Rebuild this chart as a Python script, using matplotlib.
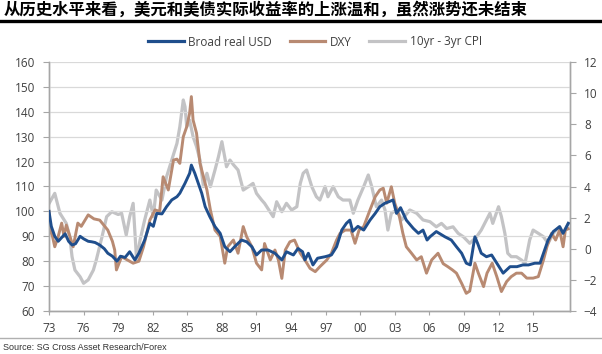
import matplotlib
matplotlib.use('Agg')
import matplotlib.pyplot as plt
from matplotlib.lines import Line2D

plt.rcParams['font.family'] = ['Open Sans', 'DejaVu Sans']

# Broad real USD (left axis)
usd_years = [1973.0, 1973.2, 1973.5, 1973.8, 1974.0, 1974.4, 1974.7, 1975.0, 1975.3, 1975.7,
             1976.0, 1976.4, 1976.7, 1977.0, 1977.4, 1977.8, 1978.1, 1978.5, 1978.9, 1979.2,
             1979.6, 1980.0, 1980.45, 1980.8, 1981.3, 1981.75, 1982.05, 1982.35, 1982.8, 1983.2,
             1983.65, 1984.1, 1984.35, 1984.8, 1985.2, 1985.35, 1985.65, 1985.95, 1986.25, 1986.55,
             1986.95, 1987.4, 1987.85, 1988.25, 1988.7, 1989.1, 1989.7, 1990.15, 1990.6, 1991.0,
             1991.45, 1992.0, 1992.6, 1993.2, 1993.6, 1994.2, 1994.6, 1995.0, 1995.2, 1995.5,
             1995.9, 1996.3, 1996.95, 1997.5, 1997.95, 1998.4, 1998.8, 1999.1, 1999.35, 1999.8,
             2000.3, 2000.85, 2001.3, 2001.7, 2002.15, 2002.5, 2002.85, 2003.15, 2003.5, 2004.0,
             2004.6, 2005.05, 2005.45, 2005.8, 2006.05, 2006.6, 2007.35, 2007.9, 2008.35, 2008.8,
             2009.2, 2009.55, 2009.95, 2010.2, 2010.5, 2010.95, 2011.4, 2011.85, 2012.4, 2013.0,
             2013.6, 2014.1, 2014.6, 2015.15, 2015.6, 2015.9, 2016.3, 2016.75, 2017.3, 2017.6,
             2018.05]
usd_vals = [100, 94, 90, 88, 89, 91, 88, 86.5, 87, 90,
            89, 88, 87.8, 87.5, 86.5, 85, 83.2, 82, 80, 82,
            81.5, 83.8, 80.5, 83.2, 88.5, 95.2, 94, 99.2, 99, 101.9,
            104.6, 105.9, 107.3, 111.3, 115.3, 118.6, 115.3, 111.3, 107.3, 101.9,
            97.9, 93.9, 91.2, 85.8, 83.8, 85.8, 88.5, 87.8, 85.8, 82.5,
            84.5, 84.5, 83.2, 80.5, 83.8, 82.5, 85.1, 83.8, 80.5, 83.2,
            78.5, 81.2, 81.8, 82.5, 85.8, 92.5, 95.2, 96.5, 92, 94,
            92.5, 96.5, 99.2, 101.9, 103.3, 103.9, 104.6, 99.2, 101.5, 96.5,
            93.2, 91.2, 92.5, 88.5, 89.8, 91.9, 89.8, 88.5, 85.8, 83.2,
            79.2, 78.5, 89.8, 87, 83.2, 81.8, 82.5, 79.2, 75.2, 77.8,
            77.8, 78.5, 78.5, 79.2, 79.2, 83.2, 88.5, 91.9, 93.9, 91.2,
            95.2]

# DXY (left axis)
dxy_years = [1973.0, 1973.1, 1973.3, 1973.5, 1973.8, 1974.1, 1974.3, 1974.5, 1975.1, 1975.5,
             1975.8, 1976.4, 1976.9, 1977.4, 1978.1, 1978.5, 1978.7, 1978.85, 1979.3, 1979.8,
             1980.3, 1980.8, 1981.2, 1981.75, 1982.2, 1982.6, 1982.9, 1983.35, 1983.8, 1984.1,
             1984.35, 1984.65, 1984.95, 1985.2, 1985.35, 1985.5, 1985.8, 1986.1, 1986.4, 1986.7,
             1987.0, 1987.4, 1987.85, 1988.25, 1988.5, 1989.0, 1989.4, 1989.85, 1990.15, 1990.6,
             1991.0, 1991.45, 1991.7, 1992.2, 1992.6, 1992.9, 1993.2, 1993.5, 1993.9, 1994.3,
             1994.8, 1995.2, 1995.65, 1996.1, 1996.5, 1997.1, 1997.5, 1997.95, 1998.25, 1998.7,
             1999.2, 1999.55, 1999.9, 2000.3, 2000.85, 2001.3, 2001.7, 2002.0, 2002.3, 2002.7,
             2003.0, 2003.4, 2003.7, 2004.0, 2004.45, 2004.9, 2005.3, 2005.75, 2006.2, 2006.75,
             2007.2, 2007.6, 2008.0, 2008.35, 2008.8, 2009.2, 2009.5, 2009.95, 2010.25, 2010.7,
             2011.0, 2011.45, 2011.85, 2012.25, 2012.7, 2013.1, 2013.55, 2014.0, 2014.45, 2015.0,
             2015.45, 2015.9, 2016.2, 2016.6, 2016.95, 2017.3, 2017.6, 2017.8, 2018.05]
dxy_vals = [100, 92.7, 90, 85.8, 90, 95.3, 90, 94.5, 85.8, 95.3,
            94, 98.6, 97, 96.5, 92.5, 88, 84.5, 76.5, 81.8, 80.5,
            79.2, 80, 85.8, 96.5, 100.6, 100, 113.9, 108.6, 120.6, 121,
            119.3, 130, 134, 139.4, 146.1, 136.7, 131.4, 119.3, 113.9, 108.6,
            100.6, 92.5, 90, 79.2, 85.8, 88.5, 83.2, 93.9, 89.8, 85.8,
            79.2, 76.5, 87.1, 80.5, 84.5, 80.5, 73.1, 84.5, 87.8, 88.5,
            83.2, 80.5, 77.1, 75.8, 77.8, 80.5, 83.2, 88.5, 91.2, 92.5,
            92.5, 87.2, 92.5, 93.9, 100.6, 105.9, 108.6, 109.3, 103.3, 109.9,
            103.3, 97.9, 91.2, 85.8, 83.2, 80.5, 81.8, 75.2, 80.5, 83.2,
            79, 77.8, 76.5, 75.2, 71.1, 67.1, 68, 79.2, 75.2, 69.8,
            75.2, 79.2, 73.8, 67.8, 71.8, 73.8, 75.2, 75.2, 73.2, 73.2,
            73.8, 80.5, 85.8, 91.2, 88.5, 92.5, 85.8, 92.5, 93]

# 10yr - 3yr CPI (right axis)
cpi_years = [1973.0, 1973.5, 1973.95, 1974.5, 1974.8, 1975.0, 1975.25, 1975.7, 1976.0, 1976.4,
             1976.85, 1977.1, 1977.6, 1978.0, 1978.45, 1979.0, 1979.3, 1979.7, 1980.0, 1980.3,
             1980.6, 1980.9, 1981.3, 1981.75, 1982.05, 1982.3, 1982.8, 1983.2, 1983.65, 1984.1,
             1984.35, 1984.65, 1984.8, 1984.95, 1985.2, 1985.5, 1985.8, 1986.1, 1986.4, 1986.7,
             1987.0, 1987.4, 1987.7, 1988.0, 1988.4, 1988.7, 1989.0, 1989.4, 1989.85, 1990.3,
             1990.7, 1991.0, 1991.45, 1991.7, 1992.45, 1992.75, 1993.2, 1993.6, 1994.05, 1994.5,
             1994.8, 1995.05, 1995.35, 1995.8, 1996.2, 1996.5, 1996.95, 1997.2, 1997.65, 1998.1,
             1998.5, 1999.1, 1999.4, 1999.8, 2000.3, 2000.7, 2001.0, 2001.4, 2001.85, 2002.15,
             2002.4, 2002.7, 2003.15, 2003.6, 2004.3, 2004.9, 2005.45, 2006.05, 2006.6, 2007.05,
             2007.5, 2008.05, 2008.5, 2008.95, 2009.5, 2010.1, 2010.5, 2010.95, 2011.25, 2011.5,
             2012.0, 2012.25, 2012.55, 2012.8, 2013.1, 2013.55, 2014.0, 2014.3, 2014.7, 2015.0,
             2015.45, 2015.9, 2016.3, 2016.75, 2017.3, 2017.6, 2018.05]
cpi_vals = [2.9, 3.56, 2.28, 1.63, 0.77, -0.51, -1.37, -1.8, -2.22, -2.0,
            -1.37, -0.73, 0.77, 2.06, 2.38, 2.2, 2.28, 0.88, 2.06, 2.92,
            -0.73, 0.56, 1.85, 3.13, 2.06, 3.77, 3.13, 4.63, 5.7, 6.77,
            7.84, 9.56, 9.13, 7.84, 8.27, 7.2, 6.56, 5.7, 3.99, 4.85,
            3.99, 5.06, 5.91, 6.88, 5.27, 5.7, 5.4, 5.06, 3.77, 3.99,
            4.2, 3.56, 3.13, 2.92, 2.06, 3.02, 2.38, 2.92, 2.49, 2.7,
            4.2, 4.85, 5.06, 3.99, 3.34, 3.13, 3.99, 3.34, 3.99, 3.34,
            3.13, 3.13, 2.28, 3.13, 3.99, 4.74, 3.99, 2.7, 3.13, 2.49,
            1.2, 2.28, 2.49, 1.85, 2.49, 2.28, 1.85, 1.74, 1.41, 1.63,
            1.3, 1.41, 0.99, 0.77, 0.35, 0.77, 1.2, 1.85, 2.28, 1.63,
            2.7, 2.06, 0.99, -0.29, -0.51, -0.51, -0.73, -0.94, 0.56, 1.2,
            0.99, 0.77, 0.35, 0.99, 1.41, 0.99, 1.63]

x_ticks = list(range(1973, 2016, 3))
x_labels = ['%02d' % (y % 100) for y in x_ticks]

blue = '#1f4e8c'
brown = '#b88a72'
gray = '#c3c3c5'
axis_gray = '#a6a6a6'
text_col = '#404040'

fig = plt.figure(figsize=(6.02, 3.54), dpi=100)
ax = fig.add_axes([49/602, 1 - 311/354, (570-49)/602, (311-62)/354])
ax2 = ax.twinx()

ax2.plot(cpi_years, cpi_vals, color=gray, lw=2.3, zorder=1)
ax.plot(usd_years, usd_vals, color=blue, lw=2.1, zorder=3)
ax.plot(dxy_years, dxy_vals, color=brown, lw=2.1, zorder=2)
ax.set_zorder(ax2.get_zorder() + 1)
ax.patch.set_visible(False)

ax.set_xlim(1973, 2018.2)
ax.set_ylim(60, 160)
ax.set_yticks(range(60, 161, 10))
ax2.set_ylim(-4, 12)
ax2.set_yticks(range(-4, 13, 2))
ax.set_xticks(x_ticks)
ax.set_xticklabels(x_labels)
ax.grid(axis='y', color='#d9d9d9', lw=0.9)

for a in (ax, ax2):
    a.spines['top'].set_visible(False)
    for s in ('left', 'right', 'bottom'):
        a.spines[s].set_color(axis_gray)
        a.spines[s].set_linewidth(1.0)
    a.tick_params(colors=text_col, labelsize=8.5, length=3, width=0.8)
    a.tick_params(axis='both', color=axis_gray)
ax.tick_params(axis='y', length=4, pad=6)
ax.tick_params(axis='x', length=3, pad=5)
ax2.tick_params(axis='y', length=4, pad=6)

# title and rule
fig.text(4/602, 1 - 10/354, '从历史水平来看，美元和美债实际收益率的上涨温和，虽然涨势还未结束',
         fontsize=11.8, fontweight='bold', family=['Noto Sans CJK SC', 'DejaVu Sans'],
         va='center', ha='left', color='black')
fig.add_artist(Line2D([0, 1], [1 - 21/354, 1 - 21/354], color='black', lw=2.4))

handles = [Line2D([], [], color=blue, lw=2.3), Line2D([], [], color=brown, lw=2.3),
           Line2D([], [], color=gray, lw=2.3)]
fig.legend(handles, ['Broad real USD', 'DXY', '10yr - 3yr CPI'], loc='center',
           bbox_to_anchor=(315/602, 1 - 42/354), ncol=3, frameon=False, fontsize=8.5,
           handlelength=3.0, columnspacing=1.5, handletextpad=0.4, labelcolor=text_col)

# source line
fig.add_artist(Line2D([0, 1], [1 - 338/354, 1 - 338/354], color='#b0b0b0', lw=1.0))
fig.text(3/602, 1 - 347/354, 'Source: SG Cross Asset Research/Forex', fontsize=6.5,
         family='Liberation Sans', va='center', ha='left', color='#333333')

fig.savefig('out.png', dpi=100)
